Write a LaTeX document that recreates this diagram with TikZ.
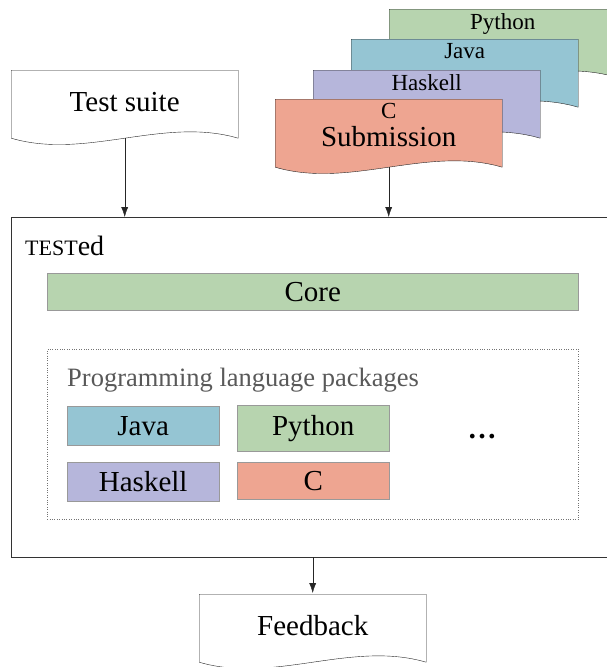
\documentclass[tikz,border=0pt]{standalone}
\usepackage{fontspec}
\setmainfont{Liberation Serif}
\usetikzlibrary{arrows.meta}

\definecolor{pygreen}{RGB}{183,212,175}
\definecolor{javablue}{RGB}{149,197,211}
\definecolor{hslilac}{RGB}{182,182,219}
\definecolor{csalmon}{RGB}{238,165,145}

\newcommand{\bigfont}{\fontsize{29}{33}\selectfont}
\newcommand{\labfont}{\fontsize{23}{27}\selectfont}
\newcommand{\midfont}{\fontsize{26.5}{30}\selectfont}

\tikzset{
    doc/.style={minimum width=229pt, minimum height=76pt, anchor=north west,
        inner sep=0pt, font=\bigfont,
        path picture={
            \coordinate (dnw) at ([xshift=1pt,yshift=-1pt]path picture bounding box.north west);
            \filldraw[draw=black!85, fill=#1] (dnw) -- ++(227,0) -- ++(0,68) coordinate (dse)
                .. controls ([shift={(-75,-22)}]dse) and ([shift={(-152,22)}]dse)
                .. ([shift={(-227,0)}]dse) -- cycle;
        }},
    doc/.default=white,
    lab/.style={anchor=north, inner sep=5pt, font=\labfont},
    pkg/.style={draw=black!40, fill=#1, minimum width=152pt,
        anchor=north west, inner sep=0pt, font=\bigfont},
    flow/.style={-{Latex[length=10pt,width=7pt]}, draw=black!85},
}

\begin{document}
\begin{tikzpicture}[x=1pt,y=-1pt]
    \clip (0,0) rectangle (607,667);

    \node[doc, text depth=11pt] (suite) at (10,69) {Test suite};

    \node[doc=pygreen, label={[lab]north:Python}] (py) at (388,8) {};
    \node[doc=javablue, label={[lab]north:Java}] (java) at (350,38) {};
    \node[doc=hslilac, label={[lab]north:Haskell}] (hs) at (312,69) {};
    \node[doc=csalmon, label={[lab]north:C}] (sub) at (274,98) {Submission};

    \node[draw=black!80, minimum width=620pt, minimum height=340pt,
        anchor=north west] (tested) at (11,217) {};
    \node[anchor=base west, inner sep=0pt, font=\fontsize{28}{32}\selectfont]
        (name) at (25,255) {{\fontsize{22}{26}\selectfont TEST}ed};

    \node[pkg=pygreen, minimum width=531pt, minimum height=37pt] (core) at (47,273) {Core};

    \node[draw=black!55, dotted, minimum width=531pt, minimum height=170pt,
        anchor=north west] (langs) at (47,349) {};
    \node[anchor=base west, inner sep=0pt, text=black!65, font=\midfont]
        (langtitle) at (67,386) {Programming language packages};
    \node[pkg=javablue, minimum height=39pt] (pjava) at (67,406) {Java};
    \node[pkg=pygreen, minimum height=46pt] (ppy) at (237,405) {Python};
    \node[pkg=hslilac, minimum height=39pt] (phs) at (67,462) {Haskell};
    \node[pkg=csalmon, minimum height=37pt] (pc) at (237,462) {C};
    \node[font=\bigfont\bfseries] (more) at (482,437) {\dots};

    \node[doc, text depth=12pt] (feedback) at (198,593) {Feedback};

    \draw[flow] ([yshift=7pt]suite.south) -- (suite.south |- tested.north);
    \draw[flow] ([yshift=7pt]sub.south) -- (sub.south |- tested.north);
    \draw[flow] (tested.south -| feedback.north) -- (feedback.north);
\end{tikzpicture}
\end{document}
